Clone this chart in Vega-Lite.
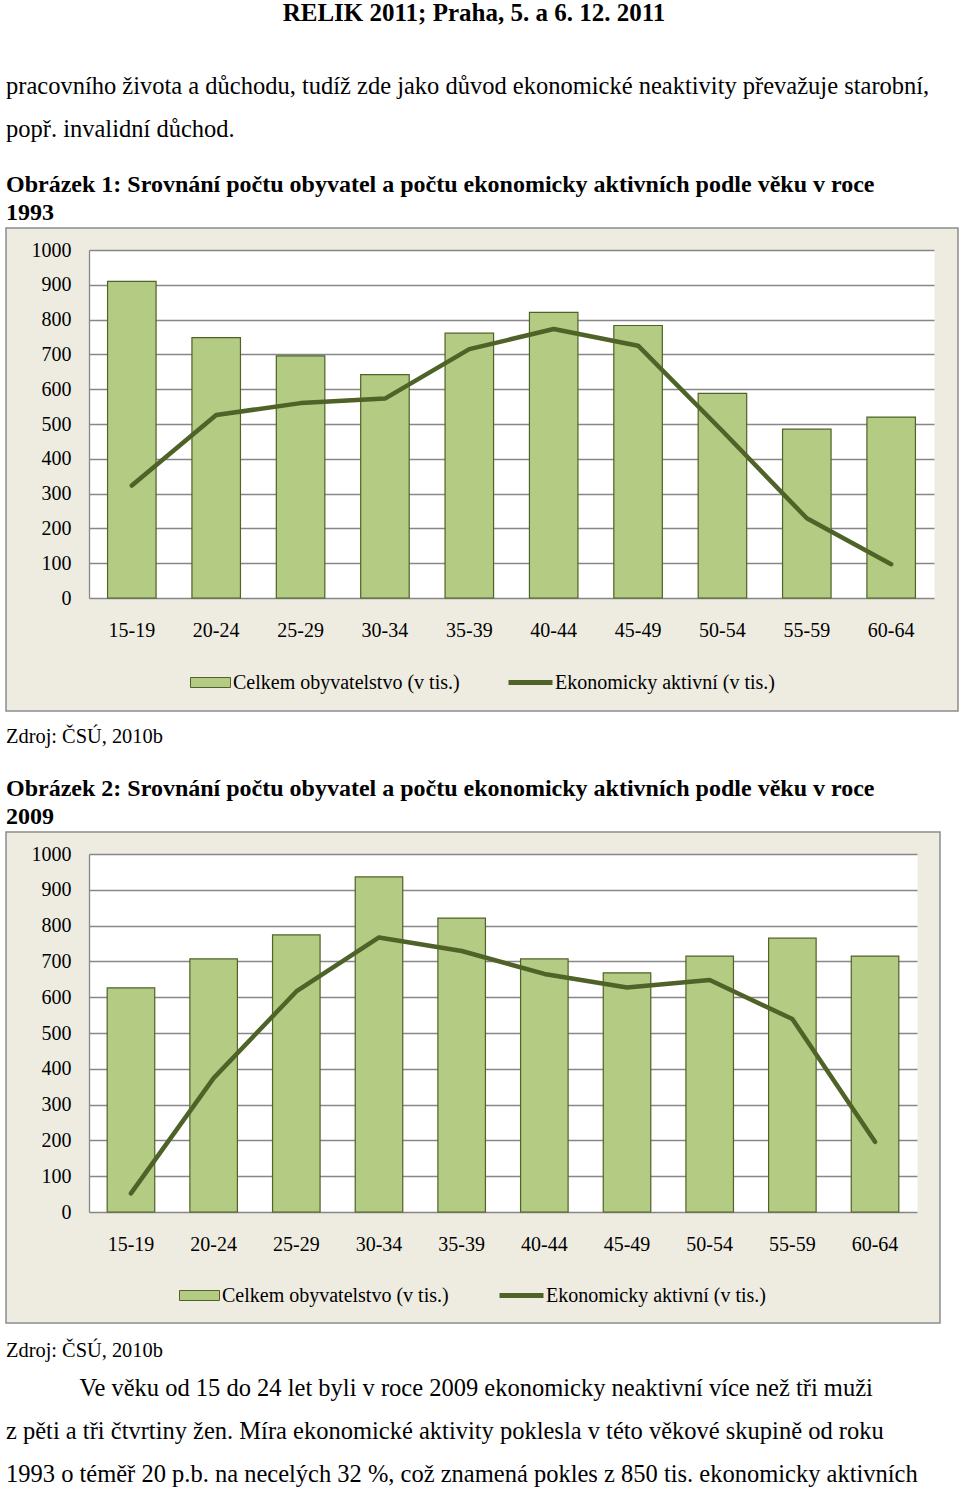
{
  "$schema": "https://vega.github.io/schema/vega-lite/v6.json",
  "background": "white",
  "padding": {"left": 5, "top": 0, "right": 0, "bottom": 2},
  "config": {
    "font": "Liberation Serif",
    "view": {"stroke": null},
    "title": {"font": "Liberation Serif", "color": "black", "subtitleFont": "Liberation Serif", "subtitleColor": "black"},
    "axis": {"labelFont": "Liberation Serif", "labelFontSize": 20, "labelColor": "black"},
    "legend": {"labelFont": "Liberation Serif", "labelFontSize": 20, "labelColor": "black", "padding": 0, "labelLimit": 400}
  },
  "title": {"text": "RELIK 2011; Praha, 5. a 6. 12. 2011", "font": "Liberation Serif", "fontSize": 25, "fontWeight": "bold", "anchor": "middle", "offset": 47, "dx": -8},
  "resolve": {"scale": {"fill": "independent", "stroke": "independent"}, "legend": {"fill": "independent", "stroke": "independent"}},
  "datasets": {
    "d1993": [
      {"vek": "15-19", "celkem": 910, "aktivni": 323},
      {"vek": "20-24", "celkem": 748, "aktivni": 526},
      {"vek": "25-29", "celkem": 696, "aktivni": 560},
      {"vek": "30-34", "celkem": 642, "aktivni": 573},
      {"vek": "35-39", "celkem": 761, "aktivni": 715},
      {"vek": "40-44", "celkem": 821, "aktivni": 773},
      {"vek": "45-49", "celkem": 783, "aktivni": 725},
      {"vek": "50-54", "celkem": 588, "aktivni": 480},
      {"vek": "55-59", "celkem": 485, "aktivni": 229},
      {"vek": "60-64", "celkem": 520, "aktivni": 97}
    ],
    "d2009": [
      {"vek": "15-19", "celkem": 626, "aktivni": 52},
      {"vek": "20-24", "celkem": 707, "aktivni": 374},
      {"vek": "25-29", "celkem": 774, "aktivni": 616},
      {"vek": "30-34", "celkem": 936, "aktivni": 767},
      {"vek": "35-39", "celkem": 821, "aktivni": 729},
      {"vek": "40-44", "celkem": 707, "aktivni": 665},
      {"vek": "45-49", "celkem": 668, "aktivni": 627},
      {"vek": "50-54", "celkem": 715, "aktivni": 648},
      {"vek": "55-59", "celkem": 765, "aktivni": 539},
      {"vek": "60-64", "celkem": 715, "aktivni": 196}
    ]
  },
  "spacing": 13,
  "vconcat": [
    {
      "width": 952,
      "height": 483,
      "view": {"fill": "#eeece1", "stroke": "#8c8c8c", "strokeWidth": 1.5},
      "title": {
        "text": ["pracovního života a důchodu, tudíž zde jako důvod ekonomické neaktivity převažuje starobní,", "popř. invalidní důchod."],
        "font": "Liberation Serif", "fontSize": 24.5, "fontWeight": "normal", "lineHeight": 43, "anchor": "start",
        "subtitle": ["Obrázek 1: Srovnání počtu obyvatel a počtu ekonomicky aktivních podle věku v roce", "1993"],
        "subtitleFont": "Liberation Serif", "subtitleFontSize": 24, "subtitleFontWeight": "bold", "subtitleLineHeight": 28, "subtitlePadding": 31,
        "offset": 2
      },
      "data": {"name": "d1993"},
      "resolve": {"axis": {"y": "independent"}},
      "layer": [
        {
          "mark": {"type": "bar", "stroke": "#4f6228", "strokeWidth": 1.2},
          "encoding": {
            "x": {"field": "vek", "type": "nominal", "sort": null,
              "scale": {"range": [83, 928], "paddingInner": 0.425, "paddingOuter": 0.22},
              "axis": {"orient": "bottom", "offset": -113, "title": null, "ticks": false, "domain": false, "grid": false, "labelAngle": 0, "labelPadding": 22, "labelFont": "Liberation Serif"}},
            "y": {"field": "celkem", "type": "quantitative",
              "scale": {"domain": [0, 1000], "range": [370, 22], "nice": false},
              "axis": {"orient": "left", "offset": -83, "values": [500], "grid": true, "gridColor": "white", "gridWidth": 348, "labels": false, "ticks": false, "domain": false, "title": null}},
            "fill": {"datum": "Celkem obyvatelstvo (v tis.)", "scale": {"range": ["#b3cb82"]},
              "legend": {"orient": "none", "legendX": 184, "legendY": 434, "title": null, "symbolType": "M-1,-0.25H1V0.25H-1Z", "symbolSize": 1600, "symbolStrokeColor": "#4f6228", "symbolStrokeWidth": 1, "labelOffset": 2, "labelFont": "Liberation Serif"}}
          }
        },
        {
          "mark": {"type": "line", "strokeWidth": 4.5, "strokeCap": "round", "strokeJoin": "round"},
          "encoding": {
            "x": {"field": "vek", "type": "nominal", "sort": null},
            "y": {"field": "aktivni", "type": "quantitative",
              "axis": {"orient": "left", "offset": -83, "values": [0, 100, 200, 300, 400, 500, 600, 700, 800, 900, 1000], "format": "d", "labelFont": "Liberation Serif", "grid": true, "gridColor": "#878787", "gridWidth": 1.3, "ticks": false, "domain": true, "domainColor": "#878787", "domainWidth": 1.3, "labelPadding": 18, "title": null}},
            "stroke": {"datum": "Ekonomicky aktivní (v tis.)", "scale": {"range": ["#4f6228"]},
              "legend": {"orient": "none", "legendX": 500, "legendY": 430, "title": null, "symbolType": "stroke", "symbolSize": 1936, "symbolStrokeWidth": 5, "labelOffset": 0, "labelFont": "Liberation Serif"}}
          }
        }
      ]
    },
    {
      "width": 934,
      "height": 491,
      "view": {"fill": "#eeece1", "stroke": "#8c8c8c", "strokeWidth": 1.5},
      "title": {
        "text": "Zdroj: ČSÚ, 2010b",
        "font": "Liberation Serif", "fontSize": 20.4, "fontWeight": "normal", "anchor": "start",
        "subtitle": ["Obrázek 2: Srovnání počtu obyvatel a počtu ekonomicky aktivních podle věku v roce", "2009"],
        "subtitleFont": "Liberation Serif", "subtitleFontSize": 24, "subtitleFontWeight": "bold", "subtitleLineHeight": 28, "subtitlePadding": 30,
        "offset": 3
      },
      "data": {"name": "d2009"},
      "resolve": {"axis": {"y": "independent"}},
      "layer": [
        {
          "mark": {"type": "bar", "stroke": "#4f6228", "strokeWidth": 1.2},
          "encoding": {
            "x": {"field": "vek", "type": "nominal", "sort": null,
              "scale": {"range": [83, 911], "paddingInner": 0.425, "paddingOuter": 0.22},
              "axis": {"orient": "bottom", "offset": -111, "minExtent": 114, "title": null, "ticks": false, "domain": false, "grid": false, "labelAngle": 0, "labelPadding": 22, "labelFont": "Liberation Serif"}},
            "y": {"field": "celkem", "type": "quantitative",
              "scale": {"domain": [0, 1000], "range": [380, 22], "nice": false},
              "axis": {"orient": "left", "offset": -83, "values": [500], "grid": true, "gridColor": "white", "gridWidth": 358, "labels": false, "ticks": false, "domain": false, "title": null}},
            "fill": {"datum": "Celkem obyvatelstvo (v tis.)", "scale": {"range": ["#b3cb82"]},
              "legend": {"orient": "none", "legendX": 173, "legendY": 443, "title": null, "symbolType": "M-1,-0.25H1V0.25H-1Z", "symbolSize": 1600, "symbolStrokeColor": "#4f6228", "symbolStrokeWidth": 1, "labelOffset": 2, "labelFont": "Liberation Serif"}}
          }
        },
        {
          "mark": {"type": "line", "strokeWidth": 4.5, "strokeCap": "round", "strokeJoin": "round"},
          "encoding": {
            "x": {"field": "vek", "type": "nominal", "sort": null},
            "y": {"field": "aktivni", "type": "quantitative",
              "axis": {"orient": "left", "offset": -83, "values": [0, 100, 200, 300, 400, 500, 600, 700, 800, 900, 1000], "format": "d", "labelFont": "Liberation Serif", "grid": true, "gridColor": "#878787", "gridWidth": 1.3, "ticks": false, "domain": true, "domainColor": "#878787", "domainWidth": 1.3, "labelPadding": 18, "title": null}},
            "stroke": {"datum": "Ekonomicky aktivní (v tis.)", "scale": {"range": ["#4f6228"]},
              "legend": {"orient": "none", "legendX": 491, "legendY": 439, "title": null, "symbolType": "stroke", "symbolSize": 1936, "symbolStrokeWidth": 5, "labelOffset": 0, "labelFont": "Liberation Serif"}}
          }
        }
      ]
    },
    {
      "width": 934,
      "height": 1,
      "title": {
        "text": "Zdroj: ČSÚ, 2010b",
        "font": "Liberation Serif", "fontSize": 20.4, "fontWeight": "normal", "anchor": "start",
        "subtitle": ["\u200b\u00a0\u00a0\u00a0\u00a0\u00a0\u00a0\u00a0\u00a0\u00a0\u00a0\u00a0\u00a0Ve věku od 15 do 24 let byli v roce 2009 ekonomicky neaktivní více než tři muži", "z pěti a tři čtvrtiny žen. Míra ekonomické aktivity poklesla v této věkové skupině od roku", "1993 o téměř 20 p.b. na necelých 32 %, což znamená pokles z 850 tis. ekonomicky aktivních"],
        "subtitleFont": "Liberation Serif", "subtitleFontSize": 24.5, "subtitleFontWeight": "normal", "subtitleLineHeight": 43, "subtitlePadding": 16,
        "offset": 2
      },
      "data": {"values": [{}]},
      "mark": {"type": "text", "text": ""}
    }
  ]
}
